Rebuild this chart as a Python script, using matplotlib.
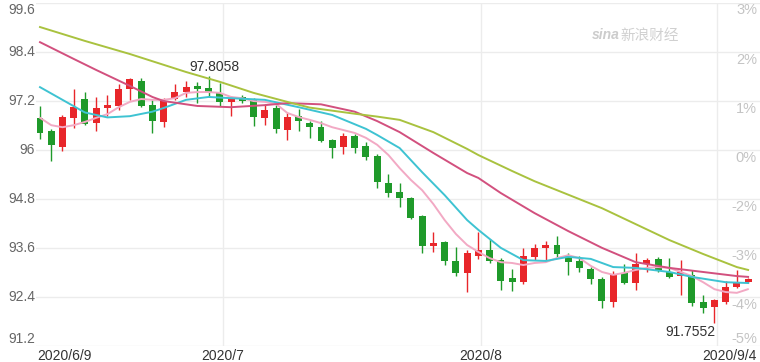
import matplotlib
matplotlib.use("Agg")
import matplotlib.pyplot as plt
import matplotlib.transforms as mtransforms
import numpy as np
import pandas as pd

# ---------------- data ----------------
dates = pd.bdate_range("2020-06-09", "2020-09-04")  # 64 trading days

opens = [96.78, 96.46, 96.07, 96.78, 97.24, 96.65, 97.02, 97.07, 97.49, 97.68,
         97.09, 96.68, 97.24, 97.41, 97.56, 97.51, 97.39, 97.17, 97.29, 97.22,
         96.78, 97.02, 96.48, 96.82, 96.65, 96.56, 96.24, 96.07, 96.34, 96.09,
         95.85, 95.19, 94.97, 94.82, 94.38, 93.65, 93.74, 93.28, 92.99, 93.40,
         93.55, 93.30, 92.86, 92.77, 93.38, 93.60, 93.67, 93.40, 93.28, 93.08,
         92.84, 92.28, 92.99, 92.74, 93.21, 93.33, 93.01, 92.91, 92.94, 92.28,
         92.15, 92.28, 92.64, 92.77]
highs = [97.07, 96.51, 96.85, 97.49, 97.41, 97.29, 97.34, 97.61, 97.75, 97.75,
         97.22, 97.27, 97.61, 97.68, 97.66, 97.8058, 97.63, 97.31, 97.34, 97.27,
         97.12, 97.09, 96.90, 97.00, 96.70, 96.70, 96.26, 96.41, 96.38, 96.19,
         95.90, 95.41, 95.19, 94.84, 94.40, 93.99, 93.77, 93.62, 93.55, 93.99,
         93.82, 93.35, 93.08, 93.60, 93.69, 93.77, 93.89, 93.47, 93.40, 93.13,
         92.89, 93.03, 93.21, 93.47, 93.35, 93.38, 93.35, 93.30, 93.06, 92.45,
         92.35, 92.79, 93.06, 92.86]
lows = [96.26, 95.72, 95.97, 96.53, 96.60, 96.46, 96.82, 96.97, 97.22, 97.04,
        96.41, 96.56, 97.22, 97.29, 97.14, 97.29, 97.07, 96.82, 97.14, 96.58,
        96.60, 96.41, 96.24, 96.46, 96.29, 96.19, 95.80, 95.90, 95.92, 95.75,
        95.06, 94.84, 94.60, 94.31, 93.47, 93.50, 93.18, 92.91, 92.52, 93.33,
        93.23, 92.57, 92.55, 92.72, 93.30, 93.28, 93.35, 92.94, 93.01, 92.72,
        92.13, 92.15, 92.72, 92.57, 93.01, 93.01, 92.86, 92.45, 92.18, 92.01,
        91.7552, 92.23, 92.62, 92.74]
closes = [96.41, 96.12, 96.80, 97.04, 96.63, 97.02, 97.09, 97.49, 97.73, 97.07,
          96.70, 97.19, 97.41, 97.53, 97.49, 97.41, 97.17, 97.27, 97.19, 96.80,
          96.97, 96.51, 96.80, 96.70, 96.56, 96.21, 96.04, 96.34, 96.04, 95.82,
          95.21, 94.94, 94.82, 94.33, 93.65, 93.72, 93.28, 92.99, 93.47, 93.55,
          93.28, 92.79, 92.77, 93.40, 93.60, 93.67, 93.45, 93.25, 93.11, 92.84,
          92.30, 92.96, 92.74, 93.21, 93.30, 93.06, 92.89, 93.01, 92.25, 92.13,
          92.33, 92.64, 92.74, 92.84]

# moving averages
ma5 = [96.78, 96.60, 96.55, 96.60, 96.68, 96.78, 96.87, 97.04, 97.17, 97.24,
       97.22, 97.22, 97.26, 97.39, 97.41, 97.41, 97.39, 97.29, 97.26, 97.19,
       97.17, 97.12, 96.90, 96.80, 96.73, 96.65, 96.55, 96.48, 96.41, 96.29,
       96.12, 95.87, 95.55, 95.26, 95.01, 94.67, 94.28, 93.94, 93.67, 93.50,
       93.35, 93.25, 93.23, 93.18, 93.23, 93.25, 93.35, 93.42, 93.35, 93.16,
       93.01, 92.94, 92.99, 93.06, 93.11, 93.13, 93.11, 93.01, 92.91, 92.76,
       92.59, 92.52, 92.50, 92.59]
ma10_idx = [0, 2, 4, 6, 8, 10, 11, 13, 15, 17, 20, 23, 26, 29, 30, 32, 34, 36,
            38, 39, 41, 43, 45, 47, 49, 51, 53, 56, 58, 61, 63]
ma10 = [97.53, 97.22, 96.91, 96.79, 96.82, 96.93, 97.02, 97.22, 97.29, 97.26,
        97.22, 97.04, 96.85, 96.51, 96.36, 96.04, 95.45, 94.89, 94.28, 94.04,
        93.60, 93.30, 93.28, 93.38, 93.33, 93.13, 93.11, 93.01, 92.89, 92.76,
        92.74]
ma20_idx = [0, 3, 5, 8, 10, 11, 14, 17, 20, 22, 25, 28, 30, 32, 35, 38, 39, 41,
            44, 47, 50, 53, 56, 59, 62, 63]
ma20 = [98.63, 98.22, 97.95, 97.56, 97.29, 97.19, 97.07, 97.04, 97.09, 97.14,
        97.11, 96.93, 96.70, 96.43, 95.92, 95.43, 95.31, 94.94, 94.45, 94.01,
        93.60, 93.25, 93.11, 93.01, 92.91, 92.89]
ma30_idx = [0, 4, 8, 13, 16, 19, 22, 24, 28, 30, 32, 35, 38, 39, 42, 44, 50, 56,
            59, 62, 63]
ma30 = [99.00, 98.66, 98.34, 97.90, 97.66, 97.39, 97.17, 97.03, 96.88, 96.81,
        96.73, 96.43, 96.02, 95.87, 95.48, 95.23, 94.57, 93.79, 93.45, 93.13,
        93.06]

y_ticks = [99.6, 98.4, 97.2, 96.0, 94.8, 93.6, 92.4, 91.2]
y_labels = ["99.6", "98.4", "97.2", "96", "94.8", "93.6", "92.4", "91.2"]
pct_labels = ["3%", "2%", "1%", "0%", "-2%", "-3%", "-4%", "-5%"]
x_labels = ["2020/6/9", "2020/7", "2020/8", "2020/9/4"]
high_label = "97.8058"
low_label = "91.7552"

# ---------------- style ----------------
RED = "#e8262a"
GREEN = "#1f9a2a"
C_MA5 = "#f2a9c4"
C_MA10 = "#3ec3d2"
C_MA20 = "#d2507e"
C_MA30 = "#a9c23f"
GRID = "#ececec"
FONT = "Liberation Sans"

W, H = 760, 362
fig = plt.figure(figsize=(W / 100, H / 100), dpi=100)
fig.patch.set_facecolor("white")
left_px, right_px, top_px, bot_px = 36, 760, 2.5, 346
ax = fig.add_axes([left_px / W, 1 - bot_px / H, (right_px - left_px) / W,
                   (bot_px - top_px) / H])
n = len(opens)
xs = np.arange(n)
ax.set_xlim(-0.356, 64.06)
ax.set_ylim(91.2, 99.6)
for s in ax.spines.values():
    s.set_visible(False)
ax.set_xticks([])
ax.set_yticks([])

# grid
for v in y_ticks:
    ax.axhline(v, color=GRID, lw=1.0, zorder=0)
month_idx = [i for i in range(1, n) if dates[i].month != dates[i - 1].month]
for i in month_idx:
    ax.axvline(i + 0.25, color=GRID, lw=1.0, zorder=0)

# candles
bw = 0.62
min_h = 0.03
for i in range(n):
    o, h, l, c = opens[i], highs[i], lows[i], closes[i]
    col = RED if c >= o else GREEN
    ax.vlines(xs[i], l, h, color=col, lw=1.0, zorder=2)
    bottom = min(o, c)
    height = max(abs(c - o), min_h)
    ax.bar(xs[i], height, bottom=bottom, width=bw, color=col, lw=0, zorder=3)

# moving averages
ax.plot(xs, ma5, color=C_MA5, lw=1.4, zorder=4, solid_capstyle="round")
ax.plot(ma10_idx, ma10, color=C_MA10, lw=1.4, zorder=4)
ax.plot(ma20_idx, ma20, color=C_MA20, lw=1.4, zorder=4)
ax.plot(ma30_idx, ma30, color=C_MA30, lw=1.4, zorder=4)

# axis labels (manual)
ytrans = ax.get_yaxis_transform()
def off(dx, dy):
    return mtransforms.ScaledTranslation(dx / 100, dy / 100, fig.dpi_scale_trans)

for k, (v, lab, pl) in enumerate(zip(y_ticks, y_labels, pct_labels)):
    if k == 0:
        va, dy = "top", -1
    elif k == len(y_ticks) - 1:
        va, dy = "bottom", 0
    else:
        va, dy = "center", 0
    ax.text(0, v, lab, transform=ytrans + off(-1, dy), ha="right", va=va,
            fontsize=10, color="#666666", family=FONT)
    if k == len(y_ticks) - 1:
        pva, pdy = "bottom", 0
    else:
        pva, pdy = "top", -1
    ax.text(1, v, pl, transform=ytrans + off(-3, pdy), ha="right", va=pva,
            fontsize=10.5, color="#c4c4c4", family=FONT)

xtrans = ax.get_xaxis_transform()
ax.text(0, 0, x_labels[0], transform=ax.transAxes + off(1, -3), ha="left",
        va="top", fontsize=10, color="#333333", family=FONT)
for i, lab in zip(month_idx, x_labels[1:3]):
    ax.text(i + 0.25, 0, lab, transform=xtrans + off(0, -3), ha="center",
            va="top", fontsize=10, color="#333333", family=FONT)
ax.text(1, 0, x_labels[3], transform=ax.transAxes + off(-3, -3), ha="right",
        va="top", fontsize=10, color="#333333", family=FONT)

# extreme annotations
hi_i = int(np.argmax(highs))
lo_i = int(np.argmin(lows))
ax.text(hi_i, highs[hi_i], high_label, transform=ax.transData + off(6, 2),
        ha="center", va="bottom", fontsize=10, color="#333333", family=FONT)
ax.text(lo_i, lows[lo_i], low_label, transform=ax.transData + off(1, -2),
        ha="right", va="top", fontsize=10, color="#333333", family=FONT)

# watermark
fig.text(592 / W, 1 - 35 / H, "sina", ha="left", va="center", fontsize=10,
         fontweight="bold", style="italic", color="#cccccc", family=FONT)
fig.text(620 / W, 1 - 36 / H, "新浪财经", ha="left", va="center", fontsize=10.5,
         style="italic", color="#d0d0d0", family=["Noto Sans CJK SC", "DejaVu Sans"])

fig.savefig("out.png", dpi=100, facecolor="white")
